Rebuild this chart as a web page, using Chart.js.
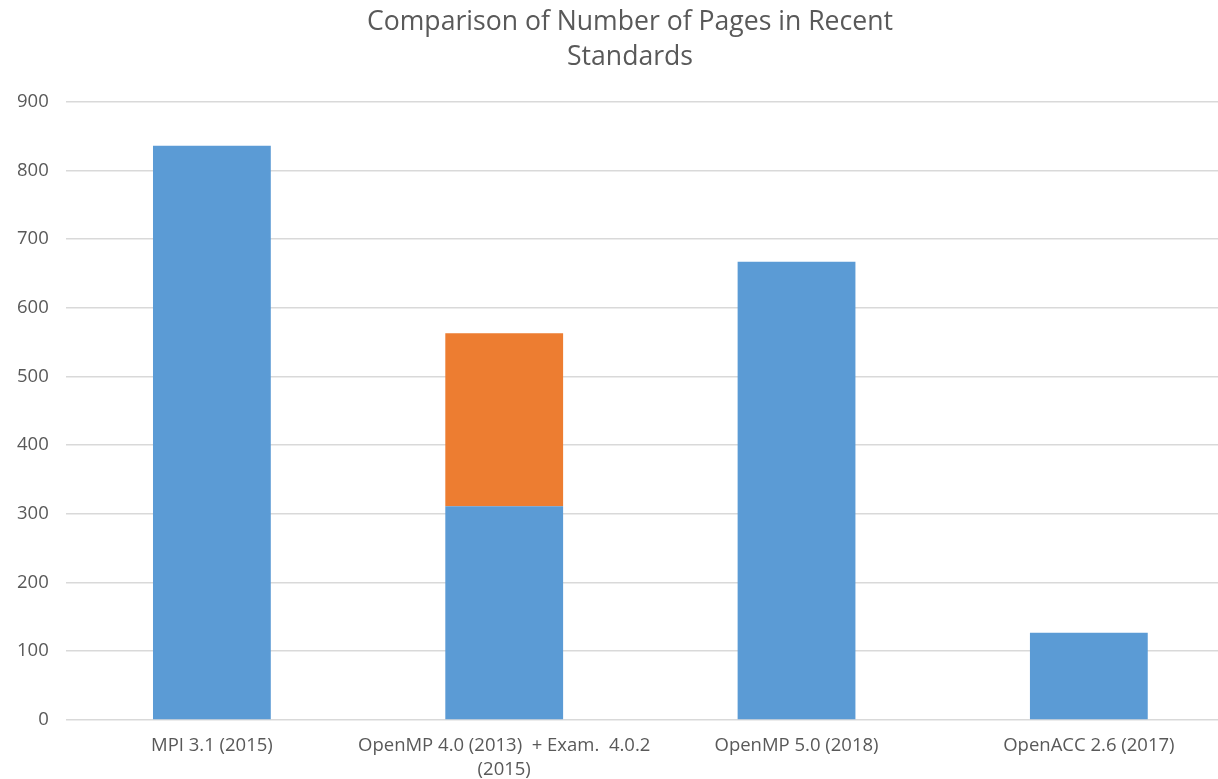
<!DOCTYPE html>
<html>
<head>
<meta charset="utf-8">
<script src="https://cdn.jsdelivr.net/npm/chart.js@4/dist/chart.umd.min.js"></script>
<style>
    body { margin: 0; background: #fff; overflow: hidden; }
    #wrap { width: 1260px; height: 779px; }
</style>
</head>
<body>
<div id="wrap"><canvas id="pages-chart" width="1260" height="779"></canvas></div>
<script>
const categories = [
    'MPI 3.1 (2015)',
    ['OpenMP 4.0 (2013)  + Exam.  4.0.2', '(2015)'],
    'OpenMP 5.0 (2018)',
    'OpenACC 2.6 (2017)'
];
const specPages = [836, 311, 667, 127];
const examplePages = [null, 252, null, null];
const yTicks = [0, 100, 200, 300, 400, 500, 600, 700, 800, 900];

const textColor = '#595959';
const fontFamily = "'Open Sans', 'Noto Sans', sans-serif";

const ctx = document.getElementById('pages-chart').getContext('2d');

const chart = new Chart(ctx, {
    type: 'bar',
    data: {
        labels: categories,
        datasets: [{
            label: 'Spec',
            data: specPages,
            backgroundColor: '#5B9BD5',
            barPercentage: 0.403,
            categoryPercentage: 1
        }, {
            label: 'Examples',
            data: examplePages,
            backgroundColor: '#ED7D31',
            barPercentage: 0.403,
            categoryPercentage: 1
        }]
    },
    options: {
        responsive: false,
        animation: false,
        layout: {
            padding: { left: 0, right: 0, top: 0, bottom: -17 }
        },
        scales: {
            x: {
                stacked: true,
                grid: { display: false, drawTicks: false },
                border: { display: false },
                ticks: {
                    color: textColor,
                    font: { family: fontFamily, size: 18.5, lineHeight: 1.3 },
                    padding: 14,
                    maxRotation: 0,
                    autoSkip: false
                }
            },
            y: {
                stacked: true,
                min: 0,
                max: 900,
                afterBuildTicks: (axis) => {
                    axis.ticks = yTicks.map(v => ({ value: v }));
                },
                grid: {
                    color: '#d9d9d9',
                    lineWidth: 1.5,
                    drawTicks: false
                },
                border: { display: false },
                ticks: {
                    color: textColor,
                    font: { family: fontFamily, size: 18.5 },
                    padding: 17
                }
            },
            // empty strip on the right, the original chart is cut there
            yr: {
                position: 'right',
                min: 0,
                max: 900,
                grid: { display: false, drawTicks: false },
                border: { display: false },
                ticks: { display: false },
                afterFit: (scale) => { scale.width = 25; }
            }
        },
        plugins: {
            legend: { display: false },
            tooltip: { enabled: false },
            title: {
                display: true,
                text: ['Comparison of Number of Pages in Recent', 'Standards'],
                color: textColor,
                font: { family: fontFamily, size: 26.6, weight: 'normal', lineHeight: 1.35 },
                padding: { top: 4, bottom: 26 }
            }
        }
    }
});
</script>
</body>
</html>
